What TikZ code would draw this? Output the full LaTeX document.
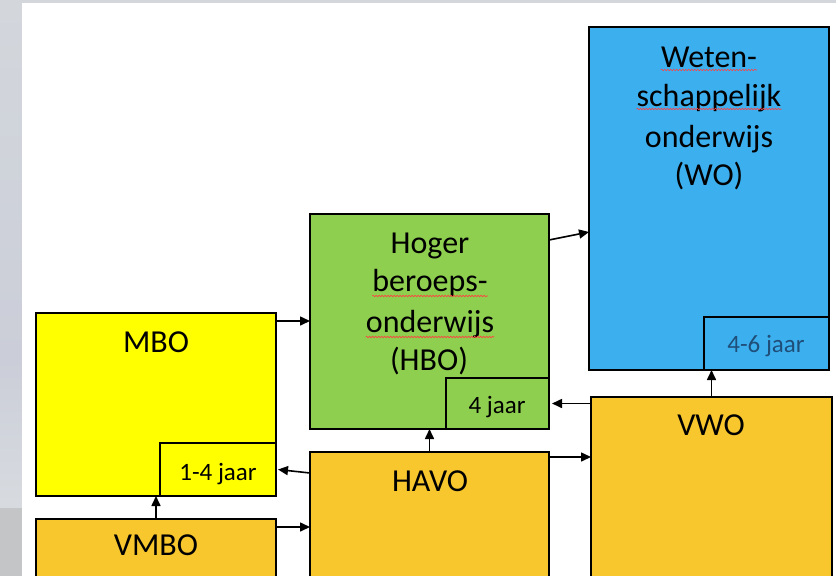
\documentclass[tikz,border=0pt]{standalone}
\usepackage{fontspec}
\setmainfont{Carlito}
\usetikzlibrary{arrows.meta,decorations.pathmorphing}
\definecolor{cyel}{HTML}{FFFF00}
\definecolor{corg}{HTML}{F8C72E}
\definecolor{cgrn}{HTML}{8FCF4F}
\definecolor{cblu}{HTML}{3CB0EF}
\definecolor{cnavy}{HTML}{1F4E79}
\definecolor{cgtop}{HTML}{D3D7DC}
\definecolor{cgmid}{HTML}{CBCED8}
\definecolor{cgbot}{HTML}{C4C5C7}
\begin{document}
\begin{tikzpicture}[x=1pt,y=-1pt,
  box/.style={draw=black,line width=1.8pt,rectangle,inner sep=0pt,outer sep=0pt,anchor=north west},
  big/.style={font=\fontsize{32}{39}\selectfont,anchor=base,inner sep=0pt,text=black},
  small/.style={font=\fontsize{25}{30}\selectfont,anchor=base,inner sep=0pt,text=black},
  conn/.style={line width=1.6pt,-{Triangle[length=10pt,width=9pt]}},
  squig/.style={draw=red!75,line width=0.6pt,decorate,decoration={snake,amplitude=0.8pt,segment length=3pt}}]
\useasboundingbox (0,0) rectangle (836,576);
\clip (0,0) rectangle (836,576);
% background
\fill[cgtop] (0,0) rectangle (836,3);
\shade[top color=cgtop,bottom color=cgmid] (0,0) rectangle (22,360);
\shade[top color=cgmid,bottom color=cgtop!90!white] (0,360) rectangle (22,508);
\fill[cgbot] (0,508) rectangle (22,576);
\fill[white] (22,2.5) rectangle (836,576);
% boxes
\node[box,fill=cyel,minimum width=240pt,minimum height=183pt] (mbo) at (36,313) {};
\node[box,fill=cyel,minimum width=116pt,minimum height=53pt] (mboyr) at (160,443) {};
\node[box,fill=corg,minimum width=240pt,minimum height=100pt] (vmbo) at (36,519) {};
\node[box,fill=cgrn,minimum width=239pt,minimum height=215pt] (hbo) at (310,214) {};
\node[box,fill=cgrn,minimum width=103pt,minimum height=51pt] (hboyr) at (446,378) {};
\node[box,fill=corg,minimum width=239pt,minimum height=160pt] (havo) at (310,452) {};
\node[box,fill=cblu,minimum width=240pt,minimum height=343pt] (wo) at (589,27) {};
\node[box,fill=cblu,minimum width=125pt,minimum height=53pt] (woyr) at (704,317) {};
\node[box,fill=corg,minimum width=241pt,minimum height=200pt] (vwo) at (591,397) {};
% texts
\node[big] (tmbo) at (156,352) {MBO};
\node[small] (tmboyr) at (218,480) {1-4 jaar};
\node[big] (tvmbo) at (156,555) {VMBO};
\node[big] (th1) at (430,253) {Hoger};
\node[big] (th2) at (430,291) {beroeps-};
\node[big] (th3) at (430,332) {onderwijs};
\node[big] (th4) at (429,370) {(HBO)};
\node[small] (thyr) at (497,413) {4 jaar};
\node[big] (thavo) at (430,491) {HAVO};
\node[big] (tw1) at (709,67) {Weten-};
\node[big] (tw2) at (709,106) {schappelijk};
\node[big] (tw3) at (709,147) {onderwijs};
\node[big] (tw4) at (709,185) {(WO)};
\node[small,text=cnavy] (twyr) at (766,352) {4-6 jaar};
\node[big] (tvwo) at (711,435) {VWO};
% spelling squiggles
\draw[squig] ([yshift=-5pt]th2.base west) -- ([yshift=-5pt]th2.base east);
\draw[squig] ([yshift=-5pt]th3.base west) -- ([yshift=-5pt]th3.base east);
\draw[squig] ([yshift=-3pt]tw1.base west) -- ([yshift=-3pt]tw1.base east);
\draw[squig] ([yshift=-3pt]tw2.base west) -- ([yshift=-3pt]tw2.base east);
% connector anchor points
\coordinate (p1) at ([yshift=-8pt]mbo.north east);
\coordinate (p2) at ([yshift=-21pt]havo.north west);
\coordinate (p3) at ([yshift=-8pt]vmbo.north east);
\coordinate (p4) at ([yshift=-5pt]havo.north east);
\coordinate (p5) at ([yshift=-26pt]hbo.north east);
\coordinate (p6) at ([yshift=-205pt]wo.north west);
% connectors
\draw[conn] (vmbo.north) -- (vmbo.north |- mbo.south);
\draw[conn] (p1) -- (hbo.west |- p1);
\draw[conn] (p2) -- ([xshift=2pt]mboyr.east);
\draw[conn] (p3) -- (havo.west |- p3);
\draw[conn] (havo.north) -- (havo.north |- hbo.south);
\draw[conn] (p4) -- (vwo.west |- p4);
\draw[conn] (vwo.west |- hboyr.east) -- ([xshift=3pt]hboyr.east);
\draw[conn] (p5) -- (p6);
\draw[conn] (vwo.north) -- (vwo.north |- wo.south);
\end{tikzpicture}
\end{document}
